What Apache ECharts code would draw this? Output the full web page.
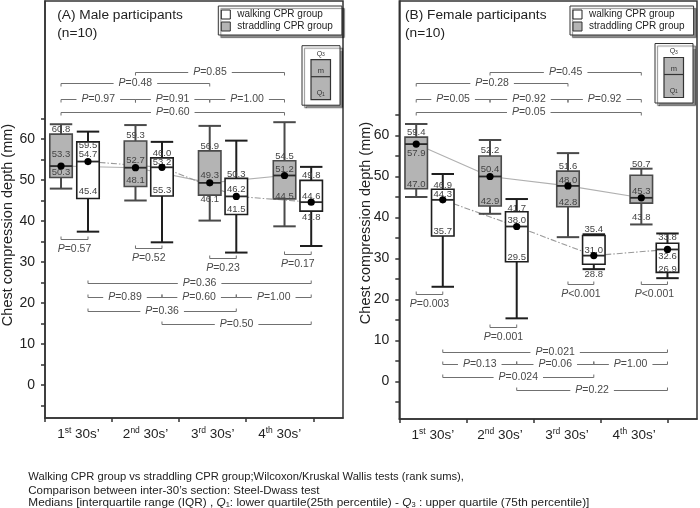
<!DOCTYPE html>
<html>
<head>
<meta charset="utf-8">
<script src="https://cdn.jsdelivr.net/npm/echarts@6.0.0/dist/echarts.min.js"></script>
<style>
html,body{margin:0;padding:0;background:#fff;}
#chart{width:700px;height:508px;}
</style>
</head>
<body>
<div id="chart"></div>
<script>
// ---------------- DATA ----------------
const catNumbers = ['1', '2', '3', '4'];
const catSuffixes = ['st', 'nd', 'rd', 'th'];
const catTail = ' 30s\u2019';
const yTickLabels = [0, 10, 20, 30, 40, 50, 60];

// box geometry: [low whisker, Q1, median, Q3, high whisker] (mm)
const maleStraddling = [
  [47.9, 50.6, 53.4, 61.2, 63.6],
  [45.0, 48.4, 53.0, 59.5, 63.4],
  [40.1, 46.3, 49.3, 57.1, 63.2],
  [38.7, 45.4, 51.1, 54.7, 64.1]
];
const maleWalking = [
  [37.4, 45.5, 54.5, 59.3, 61.8],
  [34.8, 46.1, 53.1, 55.4, 59.3],
  [32.3, 41.6, 46.0, 50.4, 59.6],
  [33.9, 42.4, 44.6, 49.9, 53.2]
];
const femaleStraddling = [
  [45.0, 47.0, 57.9, 59.6, 62.8],
  [40.9, 42.8, 50.0, 55.0, 58.9],
  [35.2, 42.6, 47.7, 51.3, 55.7],
  [38.3, 43.5, 44.8, 50.3, 51.9]
];
const femaleWalking = [
  [23.1, 35.5, 44.3, 46.9, 50.6],
  [15.4, 29.2, 37.8, 41.4, 44.5],
  [27.4, 28.6, 30.7, 35.6, 35.9],
  [25.2, 26.6, 32.2, 33.7, 36.1]
];

// printed value labels [upper, middle, lower] as they appear in the figure
const maleStraddlingText = [['60.8','53.3','50.3'], ['59.3','52.7','48.1'], ['56.9','49.3','46.1'], ['54.5','51.2','44.5']];
const maleWalkingText    = [['59.5','54.7','45.4'], ['46.0','53.2','55.3'], ['50.3','46.2','41.5'], ['49.8','44.6','41.8']];
const femaleStraddlingText = [['59.4','57.9','47.0'], ['52.2','50.4','42.9'], ['51.6','48.0','42.8'], ['50.7','45.3','43.8']];
const femaleWalkingText    = [['46.9','44.3','35.7'], ['41.7','38.0','29.5'], ['35.4','31.0','28.8'], ['33.8','32.6','26.9']];

// P values
const maleTrendP     = ['=0.85', '=0.48', '=0.97', '=0.91', '=1.00', '=0.60'];
const maleWalkingP   = ['=0.36', '=0.89', '=0.60', '=1.00', '=0.36', '=0.50'];
const malePairP      = ['=0.57', '=0.52', '=0.23', '=0.17'];
const femaleTrendP   = ['=0.45', '=0.28', '=0.05', '=0.92', '=0.92', '=0.05'];
const femaleWalkingP = ['=0.021', '=0.13', '=0.06', '=1.00', '=0.024', '=0.22'];
const femalePairP    = ['=0.003', '=0.001', '<0.001', '<0.001'];

const legendNames = ['walking CPR group', 'straddling CPR group'];
const footLine1 = 'Walking CPR group vs straddling CPR group;Wilcoxon/Kruskal Wallis tests (rank sums),';
const footLine2 = 'Comparison between inter-30\u2019s section: Steel-Dwass test';

// ---------------- LAYOUT / STYLE ----------------
const FONT = '"Liberation Sans", Arial, Helvetica, sans-serif';
const BOX_W = 0.335;
const trendPairs = [[1, 3], [0, 2], [0, 1], [1, 2], [2, 3], [0, 3]];
const walkPairs  = [[0, 3], [0, 1], [1, 2], [2, 3], [0, 2], [1, 3]];
const STRAD = {fill: '#b4b4b4', stroke: '#4a4a4a', whisker: '#4a4a4a', text: '#444'};
const WALK  = {fill: '#ffffff', stroke: '#1e1e1e', whisker: '#1e1e1e', text: '#444'};

const panels = [
  {
    grid: {left: 45, top: 1, width: 298, height: 417},
    yMin: -8.05, yMax: 93.66, xMax: 3.943,
    stradX: [-0.261, 0.849, 1.956, 3.071], walkX: [0.141, 1.244, 2.352, 3.469],
    strad: maleStraddling, walk: maleWalking,
    stradText: maleStraddlingText, walkText: maleWalkingText,
    stradOff: [[-5, -11.7, -5.4], [-5.3, -7.7, -6], [-5, -7, 4.3], [-4, -6.3, -2.7]],
    walkOff: [[3.7, -6.7, -6.6], [-4.4, -5, -6], [-4.3, -7.3, -5.3], [-4.6, -5.6, 6.7]],
    trendP: maleTrendP, trendY: [76.4, 73.6, 69.8, 69.8, 69.8, 66.7],
    walkP: maleWalkingP, walkY: [24.8, 21.5, 21.5, 21.5, 18.0, 14.8],
    pairP: malePairP, pairY: [35.5, 33.3, 30.9, 31.9],
    title: '(A) Male participants', titleX: 57.3,
    legendLeft: 218.3, keyX: 302, keyY: 45.7, yNameX: 7.5, yNameY: 225
  },
  {
    grid: {left: 399.3, top: 1, width: 297.7, height: 418},
    yMin: -9.15, yMax: 92.8, xMax: 3.937,
    stradX: [-0.248, 0.852, 2.014, 3.107], walkX: [0.148, 1.250, 2.399, 3.497],
    strad: femaleStraddling, walk: femaleWalking,
    stradText: femaleStraddlingText, walkText: femaleWalkingText,
    stradOff: [[-4.6, 9.7, -4.7], [-6, -6.7, -4.3], [-5, -6, -4.3], [-11.3, -6.7, 14]],
    walkOff: [[-4.3, -5.7, -4.3], [-3.4, -5.7, -4], [-5.7, -5.7, 9.7], [-6, 7.4, -3]],
    trendP: femaleTrendP, trendY: [75.6, 72.7, 68.9, 68.9, 68.9, 65.8],
    walkP: femaleWalkingP, walkY: [7.1, 4.2, 4.2, 4.2, 1.0, -2.1],
    pairP: femalePairP, pairY: [21.3, 13.4, 23.8, 23.8],
    title: '(B) Female participants', titleX: 405,
    legendLeft: 570, keyX: 655, keyY: 43.5, yNameX: 365.5, yNameY: 223
  }
];

function boxRenderer(style, texts, offs) {
  return function (params, api) {
    const i = params.dataIndex;
    const x = api.value(0);
    const pLow = api.coord([x, api.value(1)]);
    const pQ1 = api.coord([x, api.value(2)]);
    const pMed = api.coord([x, api.value(3)]);
    const pQ3 = api.coord([x, api.value(4)]);
    const pHigh = api.coord([x, api.value(5)]);
    const w = api.size([BOX_W, 0])[0];
    const cx = pMed[0];
    const l = cx - w / 2;
    const ws = {stroke: style.whisker, lineWidth: 2};
    const ch = [
      {type: 'line', shape: {x1: cx, y1: pHigh[1], x2: cx, y2: pQ3[1]}, style: ws},
      {type: 'line', shape: {x1: l, y1: pHigh[1], x2: l + w, y2: pHigh[1]}, style: ws},
      {type: 'line', shape: {x1: cx, y1: pLow[1], x2: cx, y2: pQ1[1]}, style: ws},
      {type: 'line', shape: {x1: l, y1: pLow[1], x2: l + w, y2: pLow[1]}, style: ws},
      {type: 'rect', shape: {x: l, y: pQ3[1], width: w, height: pQ1[1] - pQ3[1]},
        style: {fill: style.fill, stroke: style.stroke, lineWidth: 1.6}},
      {type: 'line', shape: {x1: l, y1: pMed[1], x2: l + w, y2: pMed[1]},
        style: {stroke: '#2a2a2a', lineWidth: 1.8}}
    ];
    const t = texts[i], o = offs[i];
    const ys = [pQ3[1] + o[0], pMed[1] + o[1], pQ1[1] + o[2]];
    for (let k = 0; k < 3; k++) {
      ch.push({type: 'text', x: cx, y: ys[k],
        style: {text: t[k], fill: style.text, fontSize: 9.5, fontFamily: FONT, align: 'center', verticalAlign: 'middle'}});
    }
    ch.push({type: 'circle', shape: {cx: cx, cy: pMed[1], r: 3.6}, style: {fill: '#000'}});
    return {type: 'group', children: ch};
  };
}

function bracketRenderer(list) {
  return function (params, api) {
    const b = list[params.dataIndex];
    const p1 = api.coord([api.value(0), api.value(2)]);
    const p2 = api.coord([api.value(1), api.value(2)]);
    const y = Math.round(p1[1]) + 0.5;
    const t = b.kind === 0 ? 3 : -3;
    const rich = {
      i: {fontStyle: 'italic', fontSize: 10.5, fontFamily: FONT, fill: '#4a4a4a'},
      n: {fontSize: 10.5, fontFamily: FONT, fill: '#4a4a4a'}
    };
    const txt = {type: 'text', x: (p1[0] + p2[0]) / 2, y: b.kind === 2 ? y + 9.5 : y,
      style: {text: '{i|P}{n|' + b.text + '}', rich: rich, align: 'center', verticalAlign: 'middle',
        fontSize: 10.5, fontFamily: FONT}};
    if (b.kind !== 2) {
      txt.style.backgroundColor = '#fff';
      txt.style.padding = [0, 5];
    }
    return {type: 'group', children: [
      {type: 'polyline', shape: {points: [[p1[0], y + t], [p1[0], y], [p2[0], y], [p2[0], y + t]]},
        style: {stroke: '#707070', lineWidth: 1, fill: null}},
      txt
    ]};
  };
}

const option = {
  animation: false,
  backgroundColor: '#fff',
  textStyle: {fontFamily: FONT},
  grid: [], xAxis: [], yAxis: [], series: [], legend: [], graphic: []
};

panels.forEach(function (p, k) {
  option.grid.push(Object.assign({show: true, borderColor: '#333', borderWidth: 1.5,
    backgroundColor: 'transparent', containLabel: false, outerBoundsMode: 'none'}, p.grid));
  option.xAxis.push({
    type: 'value', gridIndex: k, min: -0.5, max: p.xMax,
    splitLine: {show: false},
    axisLine: {show: true, onZero: false, lineStyle: {color: '#333', width: 1.5}},
    axisTick: {show: true, length: 4, customValues: [-0.5, 0.5, 1.5, 2.5, 3.5], lineStyle: {color: '#333', width: 1.5}},
    axisLabel: {
      customValues: [0, 1, 2, 3], margin: 8,
      formatter: function (v) {
        const i = Math.round(v);
        return '{n|' + catNumbers[i] + '}{s|' + catSuffixes[i] + '}{n|' + catTail + '}';
      },
      rich: {
        n: {fontSize: 13.5, fontFamily: FONT, color: '#222', lineHeight: 17},
        s: {fontSize: 8.5, fontFamily: FONT, color: '#222', verticalAlign: 'top'}
      }
    }
  });
  const yTicks = [];
  for (let v = -5; v <= 65; v += 5) yTicks.push(v);
  option.yAxis.push({
    type: 'value', gridIndex: k, min: p.yMin, max: p.yMax,
    splitLine: {show: false},
    axisLine: {show: true, onZero: false, lineStyle: {color: '#333', width: 1.5}},
    axisTick: {show: true, length: 4, customValues: yTicks, lineStyle: {color: '#333', width: 1.5}},
    axisLabel: {customValues: yTickLabels, fontSize: 14, fontFamily: FONT, color: '#222', margin: 10}
  });

  // connecting lines through medians
  option.series.push({
    type: 'line', name: 'straddling trend', xAxisIndex: k, yAxisIndex: k, z: 2,
    showSymbol: false, symbol: 'none', silent: true,
    lineStyle: {color: '#b0b0b0', width: 1.1, type: 'solid'},
    data: p.stradX.map(function (x, i) { return [x, p.strad[i][2]]; })
  });
  option.series.push({
    type: 'line', name: 'walking trend', xAxisIndex: k, yAxisIndex: k, z: 2,
    showSymbol: false, symbol: 'none', silent: true,
    lineStyle: {color: '#9a9a9a', width: 1.1, type: [6, 2, 1.5, 2]},
    data: p.walkX.map(function (x, i) { return [x, p.walk[i][2]]; })
  });

  // boxes
  option.series.push({
    type: 'custom', name: legendNames[1], xAxisIndex: k, yAxisIndex: k, z: 3,
    itemStyle: {color: STRAD.fill, borderColor: STRAD.stroke},
    renderItem: boxRenderer(STRAD, p.stradText, p.stradOff),
    data: p.stradX.map(function (x, i) { return [x].concat(p.strad[i]); })
  });
  option.series.push({
    type: 'custom', name: legendNames[0], xAxisIndex: k, yAxisIndex: k, z: 3,
    itemStyle: {color: WALK.fill, borderColor: WALK.stroke},
    renderItem: boxRenderer(WALK, p.walkText, p.walkOff),
    data: p.walkX.map(function (x, i) { return [x].concat(p.walk[i]); })
  });

  // significance brackets
  const br = [];
  trendPairs.forEach(function (pr, j) {
    br.push({x1: p.stradX[pr[0]], x2: p.stradX[pr[1]], y: p.trendY[j], kind: 0, text: p.trendP[j]});
  });
  walkPairs.forEach(function (pr, j) {
    br.push({x1: p.walkX[pr[0]], x2: p.walkX[pr[1]], y: p.walkY[j], kind: 1, text: p.walkP[j]});
  });
  p.pairP.forEach(function (txt, j) {
    br.push({x1: p.stradX[j], x2: p.walkX[j], y: p.pairY[j], kind: 2, text: txt});
  });
  option.series.push({
    type: 'custom', name: 'brackets', xAxisIndex: k, yAxisIndex: k, z: 4, silent: true,
    renderItem: bracketRenderer(br),
    data: br.map(function (b) { return [b.x1, b.x2, b.y]; })
  });

  option.legend.push({
    left: p.legendLeft, top: 6, orient: 'vertical', selectedMode: false,
    padding: [3.5, 9, 3.5, 2.5], itemGap: 2, itemWidth: 9, itemHeight: 9,
    backgroundColor: '#fff', borderColor: '#333', borderWidth: 1,
    shadowColor: 'rgba(0,0,0,0.45)', shadowOffsetX: 2.5, shadowOffsetY: 2.5, shadowBlur: 1,
    textStyle: {fontFamily: FONT, fontSize: 10, color: '#222', padding: [1, 0, 0, 2]},
    data: [
      {name: legendNames[0], icon: 'rect', itemStyle: {color: '#fff', borderColor: '#222', borderWidth: 1}},
      {name: legendNames[1], icon: 'rect', itemStyle: {color: '#b4b4b4', borderColor: '#333', borderWidth: 1}}
    ]
  });

  // titles
  option.graphic.push({type: 'text', x: p.titleX, y: 15.7,
    style: {text: p.title, fontSize: 13.7, fontFamily: FONT, fill: '#222', align: 'left', verticalAlign: 'middle'}});
  option.graphic.push({type: 'text', x: p.titleX, y: 33.3,
    style: {text: '(n=10)', fontSize: 13.7, fontFamily: FONT, fill: '#222', align: 'left', verticalAlign: 'middle'}});
  // y-axis name
  option.graphic.push({type: 'text', x: p.yNameX, y: p.yNameY, rotation: Math.PI / 2,
    style: {text: 'Chest compression depth (mm)', fontSize: 14.5, fontFamily: FONT, fill: '#222', align: 'center', verticalAlign: 'middle'}});
  // quartile key
  const kx = p.keyX, ky = p.keyY;
  const kr = {
    q: {fontSize: 7, fontFamily: FONT, fill: '#333'},
    s: {fontSize: 5, fontFamily: FONT, fill: '#333', verticalAlign: 'bottom'}
  };
  option.graphic.push({type: 'group', children: [
    {type: 'rect', shape: {x: kx, y: ky, width: 38, height: 59.5},
      style: {fill: '#fff', stroke: '#333', lineWidth: 1, shadowColor: 'rgba(0,0,0,0.45)', shadowOffsetX: 2.5, shadowOffsetY: 2.5, shadowBlur: 1}},
    {type: 'rect', shape: {x: kx + 9, y: ky + 14, width: 19.5, height: 40},
      style: {fill: '#b4b4b4', stroke: '#333', lineWidth: 1.2}},
    {type: 'line', shape: {x1: kx + 9, y1: ky + 31, x2: kx + 28.5, y2: ky + 31},
      style: {stroke: '#333', lineWidth: 1.2}},
    {type: 'text', x: kx + 18.75, y: ky + 8, style: {text: '{q|Q}{s|3}', rich: kr, align: 'center', verticalAlign: 'middle'}},
    {type: 'text', x: kx + 18.75, y: ky + 25.5, style: {text: 'm', fontSize: 7.5, fontFamily: FONT, fill: '#333', align: 'center', verticalAlign: 'middle'}},
    {type: 'text', x: kx + 18.75, y: ky + 47.5, style: {text: '{q|Q}{s|1}', rich: kr, align: 'center', verticalAlign: 'middle'}}
  ]});
});

// footnotes
const fr = {
  t: {fontSize: 11.8, fontFamily: FONT, fill: '#222'},
  i: {fontSize: 11.8, fontFamily: FONT, fill: '#222', fontStyle: 'italic'},
  s: {fontSize: 7.5, fontFamily: FONT, fill: '#222', verticalAlign: 'bottom'}
};
option.graphic.push({type: 'text', x: 28.3, y: 477,
  style: {text: footLine1, fontSize: 11.2, fontFamily: FONT, fill: '#222', verticalAlign: 'middle'}});
option.graphic.push({type: 'text', x: 28.3, y: 490.5,
  style: {text: footLine2, fontSize: 11.5, fontFamily: FONT, fill: '#222', verticalAlign: 'middle'}});
option.graphic.push({type: 'text', x: 28.3, y: 502.5,
  style: {text: '{t|Medians [interquartile range (IQR) , }{i|Q}{s|1}{t|: lower quartile(25th percentile) - }{i|Q}{s|3}{t| : upper quartile (75th percentile)]}',
    rich: fr, verticalAlign: 'middle'}});

const chart = echarts.init(document.getElementById('chart'), null, {renderer: 'canvas'});
chart.setOption(option);
</script>
</body>
</html>
